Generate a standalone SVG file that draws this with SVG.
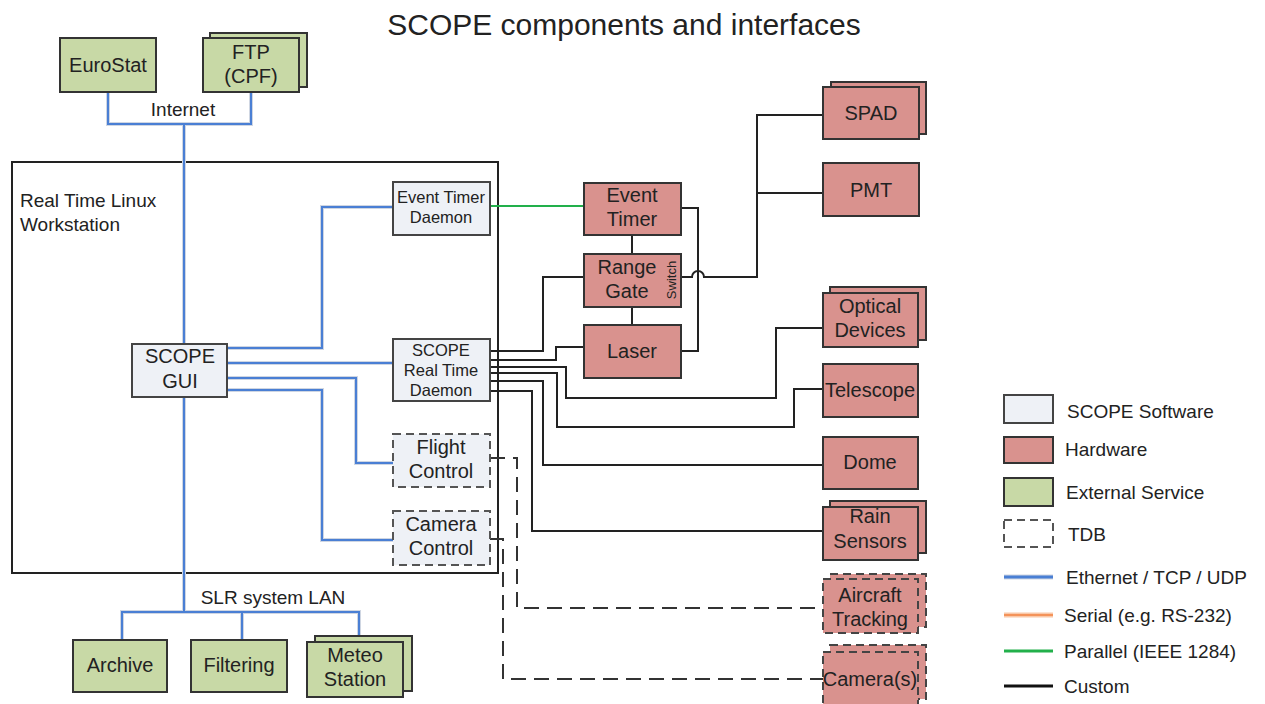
<svg xmlns="http://www.w3.org/2000/svg" width="1265" height="704" viewBox="0 0 1265 704">
  <style>
    text { font-family: "Liberation Sans", Arial, sans-serif; fill: #222; }
    .t20 { font-size: 20px; text-anchor: middle; }
    .t17 { font-size: 16.5px; text-anchor: middle; }
    .lg { font-size: 19px; }
    .sw { fill: #eef1f6; stroke: #444; stroke-width: 2; }
    .hw { fill: #d9928e; stroke: #333; stroke-width: 2; }
    .ex { fill: #c8d9a6; stroke: #333; stroke-width: 2; }
    .tdb { stroke-dasharray: 8 5; stroke: #555; }
    .tdbhw { fill: #d9928e; stroke: #444; stroke-width: 2; stroke-dasharray: 8 5; }
    .halo { fill: none; stroke: #cfd6e2; stroke-width: 4; }
    .eth { fill: none; stroke: #4a7fd4; stroke-width: 2; }
    .cus { fill: none; stroke: #222; stroke-width: 2; }
    .par { fill: none; stroke: #22b04b; stroke-width: 2; }
    .dash { fill: none; stroke: #333; stroke-width: 2; stroke-dasharray: 15 8; }
  </style>

  <!-- title -->
  <text x="624" y="35" style="font-size:30px;text-anchor:middle">SCOPE components and interfaces</text>

  <!-- workstation frame -->
  <g id="workstation">
    <rect x="12" y="162" width="486" height="411" fill="none" stroke="#222" stroke-width="2"/>
    <text x="20" y="207" style="font-size:19px">Real Time Linux</text>
    <text x="20" y="231" style="font-size:19px">Workstation</text>
  </g>

  <!-- connectors -->
  <g id="connectors">
    <!-- Ethernet links -->
    <g>
      <path class="halo" d="M108,92 V124 H251 V92 M184,124 V612 M122,640 V612 H359 V636 M242,612 V640"/>
      <path class="halo" d="M227,348 H322 V207 H393 M227,363 H393 M227,378 H356 V463 H393 M227,390 H322 V540 H393"/>
      <path class="eth" d="M108,92 V124 H251 V92 M184,124 V612 M122,640 V612 H359 V636 M242,612 V640"/>
      <path class="eth" d="M227,348 H322 V207 H393 M227,363 H393 M227,378 H356 V463 H393 M227,390 H322 V540 H393"/>
    </g>
    <!-- parallel link -->
    <path class="par" d="M490,206 H584"/>
    <!-- custom links -->
    <path class="cus" d="M632,235 V254 M632,307 V325"/>
    <path class="cus" d="M681,208 H698 V351 H681"/>
    <path class="cus" d="M681,277 H692 A6,6 0 0 1 704,277 H757 V115 H823 M757,193 H823"/>
    <path class="cus" d="M490,351 H543 V277 H584"/>
    <path class="cus" d="M490,360 H556 V347 H584"/>
    <path class="cus" d="M490,367 H566 V398 H776 V328 H823"/>
    <path class="cus" d="M490,373 H557 V427 H794 V389 H823"/>
    <path class="cus" d="M490,381 H543 V465 H823"/>
    <path class="cus" d="M490,391 H532 V531 H823"/>
    <!-- links still to be defined -->
    <path class="dash" d="M490,458 H517 V608 H823"/>
    <path class="dash" d="M490,539 H503 V679 H823"/>
  </g>

  <!-- external services -->
  <g id="eurostat">
    <rect class="ex" x="60" y="38" width="96" height="54"/>
    <text class="t20" x="108" y="72">EuroStat</text>
  </g>
  <g id="ftp">
    <rect class="ex" x="210" y="33" width="97" height="54"/>
    <rect class="ex" x="203" y="38" width="96" height="54"/>
    <text class="t20" x="251" y="59">FTP</text>
    <text class="t20" x="251" y="83">(CPF)</text>
  </g>
  <g id="archive">
    <rect class="ex" x="73" y="640" width="94" height="52"/>
    <text class="t20" x="120" y="672">Archive</text>
  </g>
  <g id="filtering">
    <rect class="ex" x="191" y="640" width="96" height="52"/>
    <text class="t20" x="239" y="672">Filtering</text>
  </g>
  <g id="meteo">
    <rect class="ex" x="315" y="636" width="97" height="55"/>
    <rect class="ex" x="307" y="642" width="96" height="55"/>
    <text class="t20" x="355" y="662">Meteo</text>
    <text class="t20" x="355" y="686">Station</text>
  </g>
  <text x="273" y="604" style="font-size:19px;text-anchor:middle">SLR system LAN</text>
  <text x="183" y="116" style="font-size:19px;text-anchor:middle">Internet</text>

  <!-- SCOPE software -->
  <g id="scope-gui">
    <rect class="sw" x="132" y="344" width="95" height="53"/>
    <text class="t20" x="180" y="363">SCOPE</text>
    <text class="t20" x="180" y="388">GUI</text>
  </g>
  <g id="event-timer-daemon">
    <rect class="sw" x="393" y="182" width="97" height="53"/>
    <text class="t17" x="441" y="203">Event Timer</text>
    <text class="t17" x="441" y="223">Daemon</text>
  </g>
  <g id="realtime-daemon">
    <rect class="sw" x="393" y="339" width="97" height="62"/>
    <text class="t17" x="441" y="356">SCOPE</text>
    <text class="t17" x="441" y="376">Real Time</text>
    <text class="t17" x="441" y="396">Daemon</text>
  </g>
  <g id="flight-control">
    <rect class="sw tdb" x="393" y="434" width="97" height="53"/>
    <text class="t20" x="441" y="454">Flight</text>
    <text class="t20" x="441" y="478">Control</text>
  </g>
  <g id="camera-control">
    <rect class="sw tdb" x="393" y="511" width="97" height="54"/>
    <text class="t20" x="441" y="531">Camera</text>
    <text class="t20" x="441" y="555">Control</text>
  </g>

  <!-- hardware -->
  <g id="event-timer">
    <rect class="hw" x="584" y="183" width="97" height="52"/>
    <text class="t20" x="632" y="202">Event</text>
    <text class="t20" x="632" y="226">Timer</text>
  </g>
  <g id="range-gate">
    <rect class="hw" x="584" y="254" width="97" height="53"/>
    <text class="t20" x="627" y="274">Range</text>
    <text class="t20" x="627" y="298">Gate</text>
    <text transform="translate(676,280) rotate(-90)" style="font-size:13px;text-anchor:middle">Switch</text>
  </g>
  <g id="laser">
    <rect class="hw" x="584" y="325" width="97" height="53"/>
    <text class="t20" x="632" y="358">Laser</text>
  </g>
  <g id="spad">
    <rect class="hw" x="831" y="82" width="95" height="52"/>
    <rect class="hw" x="823" y="87" width="96" height="52"/>
    <text class="t20" x="871" y="120">SPAD</text>
  </g>
  <g id="pmt">
    <rect class="hw" x="823" y="163" width="96" height="53"/>
    <text class="t20" x="871" y="197">PMT</text>
  </g>
  <g id="optical-devices">
    <rect class="hw" x="830" y="287" width="96" height="53"/>
    <rect class="hw" x="823" y="293" width="95" height="54"/>
    <text class="t20" x="870" y="313">Optical</text>
    <text class="t20" x="870" y="337">Devices</text>
  </g>
  <g id="telescope">
    <rect class="hw" x="823" y="364" width="95" height="53"/>
    <text class="t20" x="870" y="397">Telescope</text>
  </g>
  <g id="dome">
    <rect class="hw" x="823" y="437" width="95" height="52"/>
    <text class="t20" x="870" y="469">Dome</text>
  </g>
  <g id="rain-sensors">
    <rect class="hw" x="830" y="501" width="96" height="52"/>
    <rect class="hw" x="823" y="507" width="95" height="53"/>
    <text class="t20" x="870" y="523">Rain</text>
    <text class="t20" x="870" y="548">Sensors</text>
  </g>
  <g id="aircraft-tracking">
    <rect class="tdbhw" x="830" y="574" width="96" height="53"/>
    <rect class="tdbhw" x="823" y="579" width="95" height="54"/>
    <text class="t20" x="870" y="602">Aircraft</text>
    <text class="t20" x="870" y="626">Tracking</text>
  </g>
  <g id="cameras">
    <rect class="tdbhw" x="830" y="645" width="96" height="54"/>
    <rect class="tdbhw" x="823" y="652" width="95" height="54"/>
    <text class="t20" x="870" y="686">Camera(s)</text>
  </g>

  <!-- legend -->
  <g id="legend">
    <rect class="sw" x="1004" y="395" width="49" height="28"/>
    <text class="lg" x="1067" y="418">SCOPE Software</text>
    <rect class="hw" x="1004" y="437" width="49" height="26"/>
    <text class="lg" x="1065" y="456">Hardware</text>
    <rect class="ex" x="1004" y="478" width="49" height="28"/>
    <text class="lg" x="1066" y="499">External Service</text>
    <rect x="1004" y="520" width="49" height="27" fill="#fff" stroke="#555" stroke-width="2" stroke-dasharray="8 5"/>
    <text class="lg" x="1068" y="541">TDB</text>
    <line x1="1004" y1="577" x2="1053" y2="577" stroke="#cfd6e2" stroke-width="5"/>
    <line x1="1004" y1="577" x2="1053" y2="577" stroke="#4a7fd4" stroke-width="3"/>
    <text class="lg" x="1066" y="584">Ethernet / TCP / UDP</text>
    <line x1="1004" y1="615" x2="1053" y2="615" stroke="#f9c8a8" stroke-width="5"/>
    <line x1="1004" y1="615" x2="1053" y2="615" stroke="#f4935a" stroke-width="2"/>
    <text class="lg" x="1064" y="622">Serial (e.g. RS-232)</text>
    <line x1="1004" y1="651" x2="1053" y2="651" stroke="#22b04b" stroke-width="3"/>
    <text class="lg" x="1064" y="658">Parallel (IEEE 1284)</text>
    <line x1="1004" y1="686" x2="1053" y2="686" stroke="#111" stroke-width="3"/>
    <text class="lg" x="1064" y="693">Custom</text>
  </g>
</svg>
